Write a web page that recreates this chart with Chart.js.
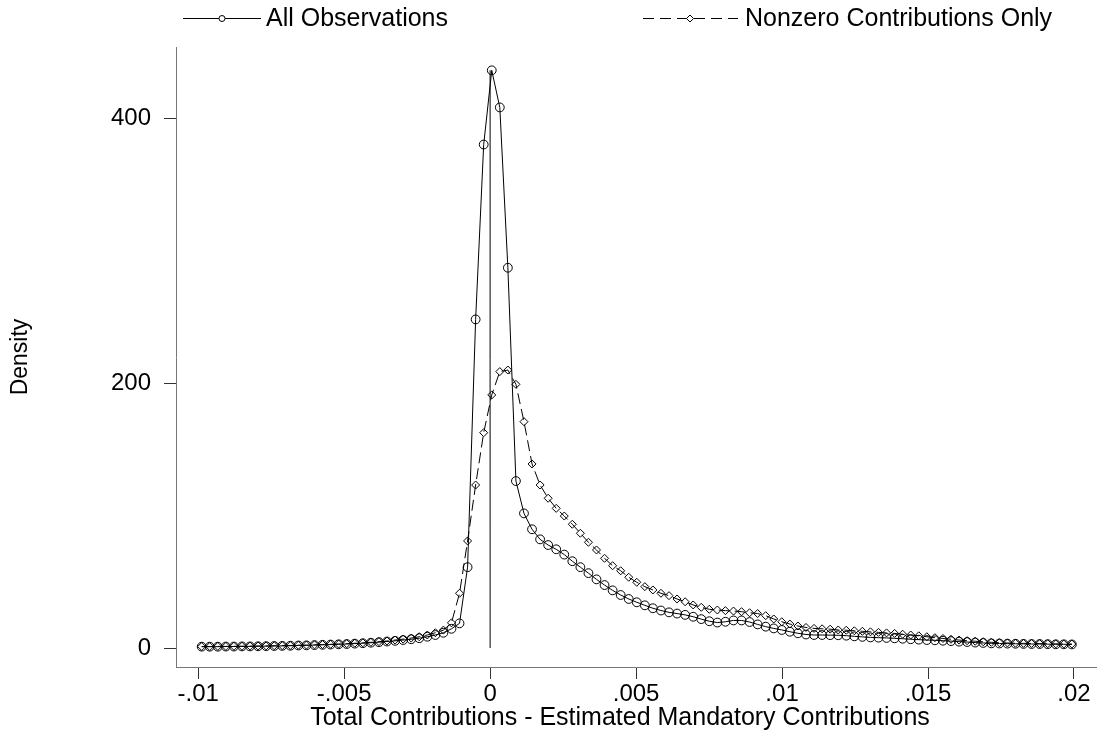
<!DOCTYPE html>
<html>
<head>
<meta charset="utf-8">
<script src="https://cdn.jsdelivr.net/npm/chart.js@4"></script>
<style>
  html, body { margin: 0; padding: 0; background: #fff; }
  #wrap { width: 1102px; height: 736px; }
</style>
</head>
<body>
<div id="wrap"><canvas id="densityChart" width="1102" height="736"></canvas></div>
<script>
// kernel density evaluation points (x) and the two density curves
const xGrid = [
  -0.009880, -0.009604, -0.009328, -0.009052, -0.008776, -0.008500, -0.008224, -0.007948, -0.007672, -0.007396,
  -0.007120, -0.006844, -0.006568, -0.006292, -0.006016, -0.005740, -0.005464, -0.005188, -0.004912, -0.004636,
  -0.004360, -0.004084, -0.003808, -0.003532, -0.003256, -0.002980, -0.002704, -0.002428, -0.002152, -0.001876,
  -0.001600, -0.001324, -0.001048, -0.000772, -0.000496, -0.000220, 0.000056, 0.000332, 0.000608, 0.000884,
  0.001160, 0.001436, 0.001712, 0.001988, 0.002264, 0.002540, 0.002816, 0.003092, 0.003368, 0.003644,
  0.003920, 0.004196, 0.004472, 0.004748, 0.005024, 0.005300, 0.005576, 0.005852, 0.006128, 0.006404,
  0.006680, 0.006956, 0.007232, 0.007508, 0.007784, 0.008060, 0.008336, 0.008612, 0.008888, 0.009164,
  0.009440, 0.009716, 0.009992, 0.010268, 0.010544, 0.010820, 0.011096, 0.011372, 0.011648, 0.011924,
  0.012200, 0.012476, 0.012752, 0.013028, 0.013304, 0.013580, 0.013856, 0.014132, 0.014408, 0.014684,
  0.014960, 0.015236, 0.015512, 0.015788, 0.016064, 0.016340, 0.016616, 0.016892, 0.017168, 0.017444,
  0.017720, 0.017996, 0.018272, 0.018548, 0.018824, 0.019100, 0.019376, 0.019652, 0.019928
];

const allObs = [
  1.0, 1.0, 1.0, 1.1, 1.1, 1.2, 1.2, 1.3, 1.4, 1.5, 1.6,
  1.7, 1.9, 2.0, 2.2, 2.4, 2.6, 2.8, 3.0, 3.3, 3.6,
  4.0, 4.4, 4.9, 5.4, 6.0, 6.6, 7.4, 8.5, 9.8, 11.5, 14.5, 18.6,
  61, 248, 380, 436, 408, 287, 126,
  101.6, 89.6, 82, 77.7, 74.5, 70.5, 65.5, 61, 56.5, 51.8,
  47.5, 43.5, 40, 37, 34.5, 32.2, 30, 28.3, 26.9, 26,
  25, 23.6, 21.8, 20.2, 19.2, 19.8, 20.8, 20.8, 19.6, 17.8,
  16.1, 14.8, 13.6, 12.3, 11.1, 10.2, 9.8, 9.8, 9.7, 9.6,
  9.3, 8.8, 8.4, 8.0, 7.8, 7.6, 7.3, 7.0, 6.6, 6.3,
  6.0, 5.8, 5.5, 5.2, 4.8, 4.5, 4.1, 3.8, 3.5, 3.4,
  3.3, 3.2, 3.1, 3.0, 3.0, 2.9, 2.8, 2.8, 2.7
];

const nonzeroOnly = [
  1.1, 1.1, 1.2, 1.2, 1.3, 1.3, 1.4, 1.5, 1.6, 1.7, 1.8,
  1.9, 2.1, 2.2, 2.4, 2.6, 2.8, 3.0, 3.3, 3.6, 3.9,
  4.3, 4.8, 5.3, 6.0, 6.7, 7.5, 8.5, 9.8, 11.5, 13.5, 19, 41.3,
  80.8, 123, 162.5, 191, 208.6, 209.8, 199,
  170.8, 138.9, 123, 113, 105.4, 99.6, 93.4, 86.6, 79.8, 74,
  67.7, 62.1, 58.3, 53.4, 49.6, 46.3, 43.8, 41.3, 39.5, 37,
  34.9, 32.5, 30.7, 29.2, 28.7, 28.2, 27.9, 27.4, 26.6, 26,
  24.4, 21.9, 19.8, 18.1, 16.6, 15.5, 14.8, 14.5, 14.2, 13.6,
  13.4, 13, 12.6, 12.2, 11.8, 11.4, 11, 10.4, 9.8, 9.2,
  8.5, 7.8, 7.2, 6.6, 6.0, 5.5, 5.1, 4.7, 4.3, 4.0,
  3.8, 3.6, 3.5, 3.4, 3.3, 3.2, 3.1, 3.0, 3.0
];

const xTicks = [-0.01, -0.005, 0, 0.005, 0.01, 0.015, 0.02];
const xTickLabels = ['-.01', '-.005', '0', '.005', '.01', '.015', '.02'];
const yTicks = [0, 200, 400];
const yTickLabels = ['0', '200', '400'];

const seriesNames = ['All Observations', 'Nonzero Contributions Only'];
const xTitle = 'Total Contributions - Estimated Mandatory Contributions';

const FONT = "'Liberation Sans', Arial, Helvetica, sans-serif";

function toPoints(ys) {
  return ys.map((y, i) => ({ x: xGrid[i], y: y }));
}

// legend drawn by hand: stata style line sample with a marker in the middle
const stataLegend = {
  id: 'stataLegend',
  afterDraw(chart) {
    const ctx = chart.ctx;
    const y = 18;
    ctx.save();
    ctx.strokeStyle = '#000';
    ctx.lineWidth = 1;

    // solid + circle
    ctx.beginPath();
    ctx.moveTo(183, y + 0.5);
    ctx.lineTo(261, y + 0.5);
    ctx.stroke();
    ctx.fillStyle = '#fff';
    ctx.beginPath();
    ctx.arc(222, y + 0.5, 3, 0, Math.PI * 2);
    ctx.fill();
    ctx.stroke();

    // dashed + diamond
    ctx.setLineDash([11, 6]);
    ctx.beginPath();
    ctx.moveTo(643, y + 0.5);
    ctx.lineTo(738, y + 0.5);
    ctx.stroke();
    ctx.setLineDash([]);
    ctx.beginPath();
    ctx.moveTo(690, y - 3);
    ctx.lineTo(693.5, y + 0.5);
    ctx.lineTo(690, y + 4);
    ctx.lineTo(686.5, y + 0.5);
    ctx.closePath();
    ctx.fill();
    ctx.stroke();

    ctx.fillStyle = '#000';
    ctx.font = '25px ' + FONT;
    ctx.textBaseline = 'middle';
    ctx.textAlign = 'left';
    ctx.fillText(seriesNames[0], 266, y + 1);
    ctx.fillText(seriesNames[1], 745, y + 1);

    // x axis title, placed a bit left of the plot centre like the original
    ctx.textAlign = 'center';
    ctx.fillText(xTitle, 620, 718);
    ctx.restore();
  }
};

const ctx = document.getElementById('densityChart').getContext('2d');
const densityChart = new Chart(ctx, {
  type: 'line',
  data: {
    datasets: [
      {
        label: seriesNames[0],
        data: toPoints(allObs),
        borderColor: '#000',
        borderWidth: 1,
        backgroundColor: 'rgba(0,0,0,0)',
        pointStyle: 'circle',
        pointRadius: 4.4,
        pointBorderWidth: 1,
        pointBorderColor: '#000',
        pointBackgroundColor: 'rgba(0,0,0,0)',
        tension: 0
      },
      {
        label: seriesNames[1],
        data: toPoints(nonzeroOnly),
        borderColor: '#000',
        borderWidth: 1,
        borderDash: [11, 5],
        backgroundColor: 'rgba(0,0,0,0)',
        pointStyle: 'rectRot',
        pointRadius: 4,
        pointBorderWidth: 1,
        pointBorderColor: '#000',
        pointBackgroundColor: 'rgba(0,0,0,0)',
        tension: 0
      },
      {
        // vertical reference line at zero, up to the peak of the first curve
        label: 'zero',
        data: [{ x: 0, y: 0 }, { x: 0, y: Math.max(...allObs) }],
        borderColor: '#000',
        borderWidth: 1,
        pointRadius: 0
      }
    ]
  },
  options: {
    responsive: false,
    animation: false,
    devicePixelRatio: 1,
    layout: { padding: { top: 47, right: 2, left: 0, bottom: 0 } },
    plugins: {
      legend: { display: false },
      tooltip: { enabled: false }
    },
    scales: {
      x: {
        type: 'linear',
        min: -0.01076,
        max: 0.020775,
        afterFit: (s) => { s.height = 69; },
        afterBuildTicks: (s) => { s.ticks = xTicks.map(v => ({ value: v })); },
        ticks: {
          callback: (v, i) => xTickLabels[i],
          color: '#000',
          font: { family: FONT, size: 24 },
          padding: 1,
          maxRotation: 0,
          autoSkip: false
        },
        grid: { drawOnChartArea: false, drawTicks: true, tickLength: 12, color: '#333' },
        border: { display: true, color: '#777', width: 1 },
        title: { display: false }
      },
      y: {
        type: 'linear',
        min: -14.34,
        max: 453.6,
        afterFit: (s) => { s.width = 176; },
        afterBuildTicks: (s) => { s.ticks = yTicks.map(v => ({ value: v })); },
        ticks: {
          callback: (v, i) => yTickLabels[i],
          color: '#000',
          font: { family: FONT, size: 24 },
          padding: 13
        },
        grid: { drawOnChartArea: false, drawTicks: true, tickLength: 12, color: '#333' },
        border: { display: true, color: '#777', width: 1 },
        title: {
          display: true,
          text: 'Density',
          color: '#000',
          font: { family: FONT, size: 23 },
          padding: { top: 7, bottom: 0 }
        }
      }
    }
  },
  plugins: [stataLegend]
});
</script>
</body>
</html>
